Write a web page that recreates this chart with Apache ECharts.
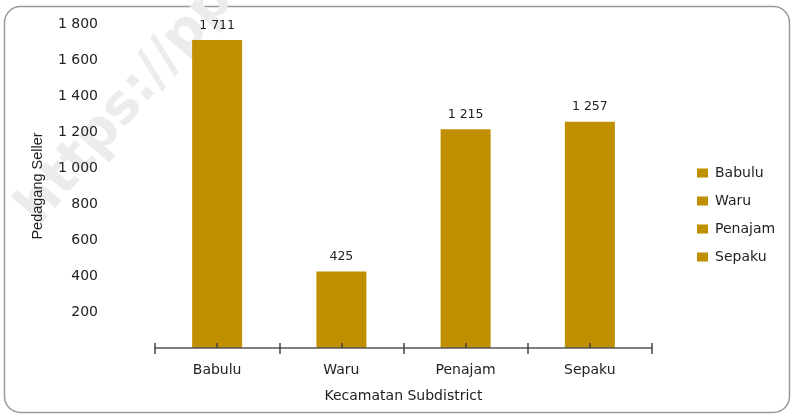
<!DOCTYPE html>
<html>
<head>
<meta charset="utf-8">
<script src="https://cdn.jsdelivr.net/npm/echarts@6/dist/echarts.min.js"></script>
<style>
  html, body { margin: 0; padding: 0; background: #fff; }
  #chart { width: 795px; height: 415px; }
</style>
</head>
<body>
<div id="chart"></div>
<script>
// data
var categories = ['Babulu', 'Waru', 'Penajam', 'Sepaku'];
var values = [1711, 425, 1215, 1257];
var yTicks = [200, 400, 600, 800, 1000, 1200, 1400, 1600, 1800];

var barColor = '#C09000';
var font = 'DejaVu Sans';

function fmt(n) {
  // thousands with a space, like "1 711"
  return String(n).replace(/\B(?=(\d{3})+(?!\d))/g, ' ');
}

var chart = echarts.init(document.getElementById('chart'), null, { renderer: 'canvas' });

// one series per category so the legend lists each, stacked so bars stay centred
var ser = [];
categories.forEach(function (name, i) {
  var d = categories.map(function (c, j) { return j === i ? values[i] : '-'; });
  ser.push({
    name: name,
    type: 'bar',
    stack: 'all',
    barWidth: 50,
    data: d,
    itemStyle: { color: barColor },
    label: {
      show: true,
      position: 'top',
      distance: 8,
      color: '#222',
      fontFamily: font,
      fontSize: 12.5,
      formatter: function (p) { return fmt(p.value); }
    }
  });
});

var tickStyle = { color: '#444', width: 1.5 };

var option = {
  backgroundColor: '#fff',
  animation: false,
  graphic: [
    {
      type: 'rect',
      shape: { x: 4.5, y: 6.5, width: 785, height: 406, r: 16 },
      style: { fill: 'none', stroke: '#999', lineWidth: 1.5 },
      z: -10
    },
    {
      type: 'text',
      x: 8, y: 200,
      rotation: 0.86,
      style: {
        text: 'https://ppid',
        fill: '#ececec',
        font: 'bold 54px "DejaVu Sans"'
      },
      z: -5
    }
  ],
  legend: {
    orient: 'vertical',
    left: 692,
    top: 161,
    itemWidth: 11,
    itemHeight: 9,
    itemGap: 14,
    icon: 'rect',
    textStyle: { fontFamily: font, fontSize: 14, color: '#222', padding: [0, 0, 0, 2] },
    data: categories
  },
  grid: { left: 155, right: 143, top: 24, bottom: 67 },
  xAxis: [
    {
      type: 'category',
      data: categories,
      boundaryGap: true,
      z: 10,
      name: 'Kecamatan Subdistrict',
      nameLocation: 'middle',
      nameGap: 41,
      nameTextStyle: { fontFamily: font, fontSize: 14, color: '#222' },
      axisLine: { lineStyle: { color: '#555', width: 1.5 } },
      axisTick: { show: true, interval: 0, length: 6, lineStyle: tickStyle },
      axisLabel: { margin: 15, fontFamily: font, fontSize: 14, color: '#222', interval: 0 }
    },
    {
      // upper half of the boundary ticks
      type: 'category',
      data: categories,
      position: 'bottom',
      z: 10,
      axisLine: { show: false },
      axisTick: { show: true, inside: true, interval: 0, length: 5, lineStyle: tickStyle },
      axisLabel: { show: false }
    },
    {
      // short ticks at category centres
      type: 'category',
      data: categories,
      position: 'bottom',
      z: 10,
      axisLine: { show: false },
      axisTick: { show: true, inside: true, alignWithLabel: true, interval: 0, length: 5, lineStyle: tickStyle },
      axisLabel: { show: false }
    }
  ],
  yAxis: {
    type: 'value',
    min: 0,
    max: yTicks[yTicks.length - 1],
    interval: yTicks[1] - yTicks[0],
    name: 'Pedagang Seller',
    nameLocation: 'middle',
    nameGap: 110,
    nameRotate: 90,
    nameTextStyle: { fontFamily: 'Liberation Sans', fontSize: 14.5, color: '#222' },
    axisLine: { show: false },
    axisTick: { show: false },
    splitLine: { show: false },
    axisLabel: {
      margin: 57,
      fontFamily: font,
      fontSize: 14,
      color: '#222',
      formatter: function (v) { return v === 0 ? '' : fmt(v); }
    }
  },
  series: ser
};

chart.setOption(option);
</script>
</body>
</html>
